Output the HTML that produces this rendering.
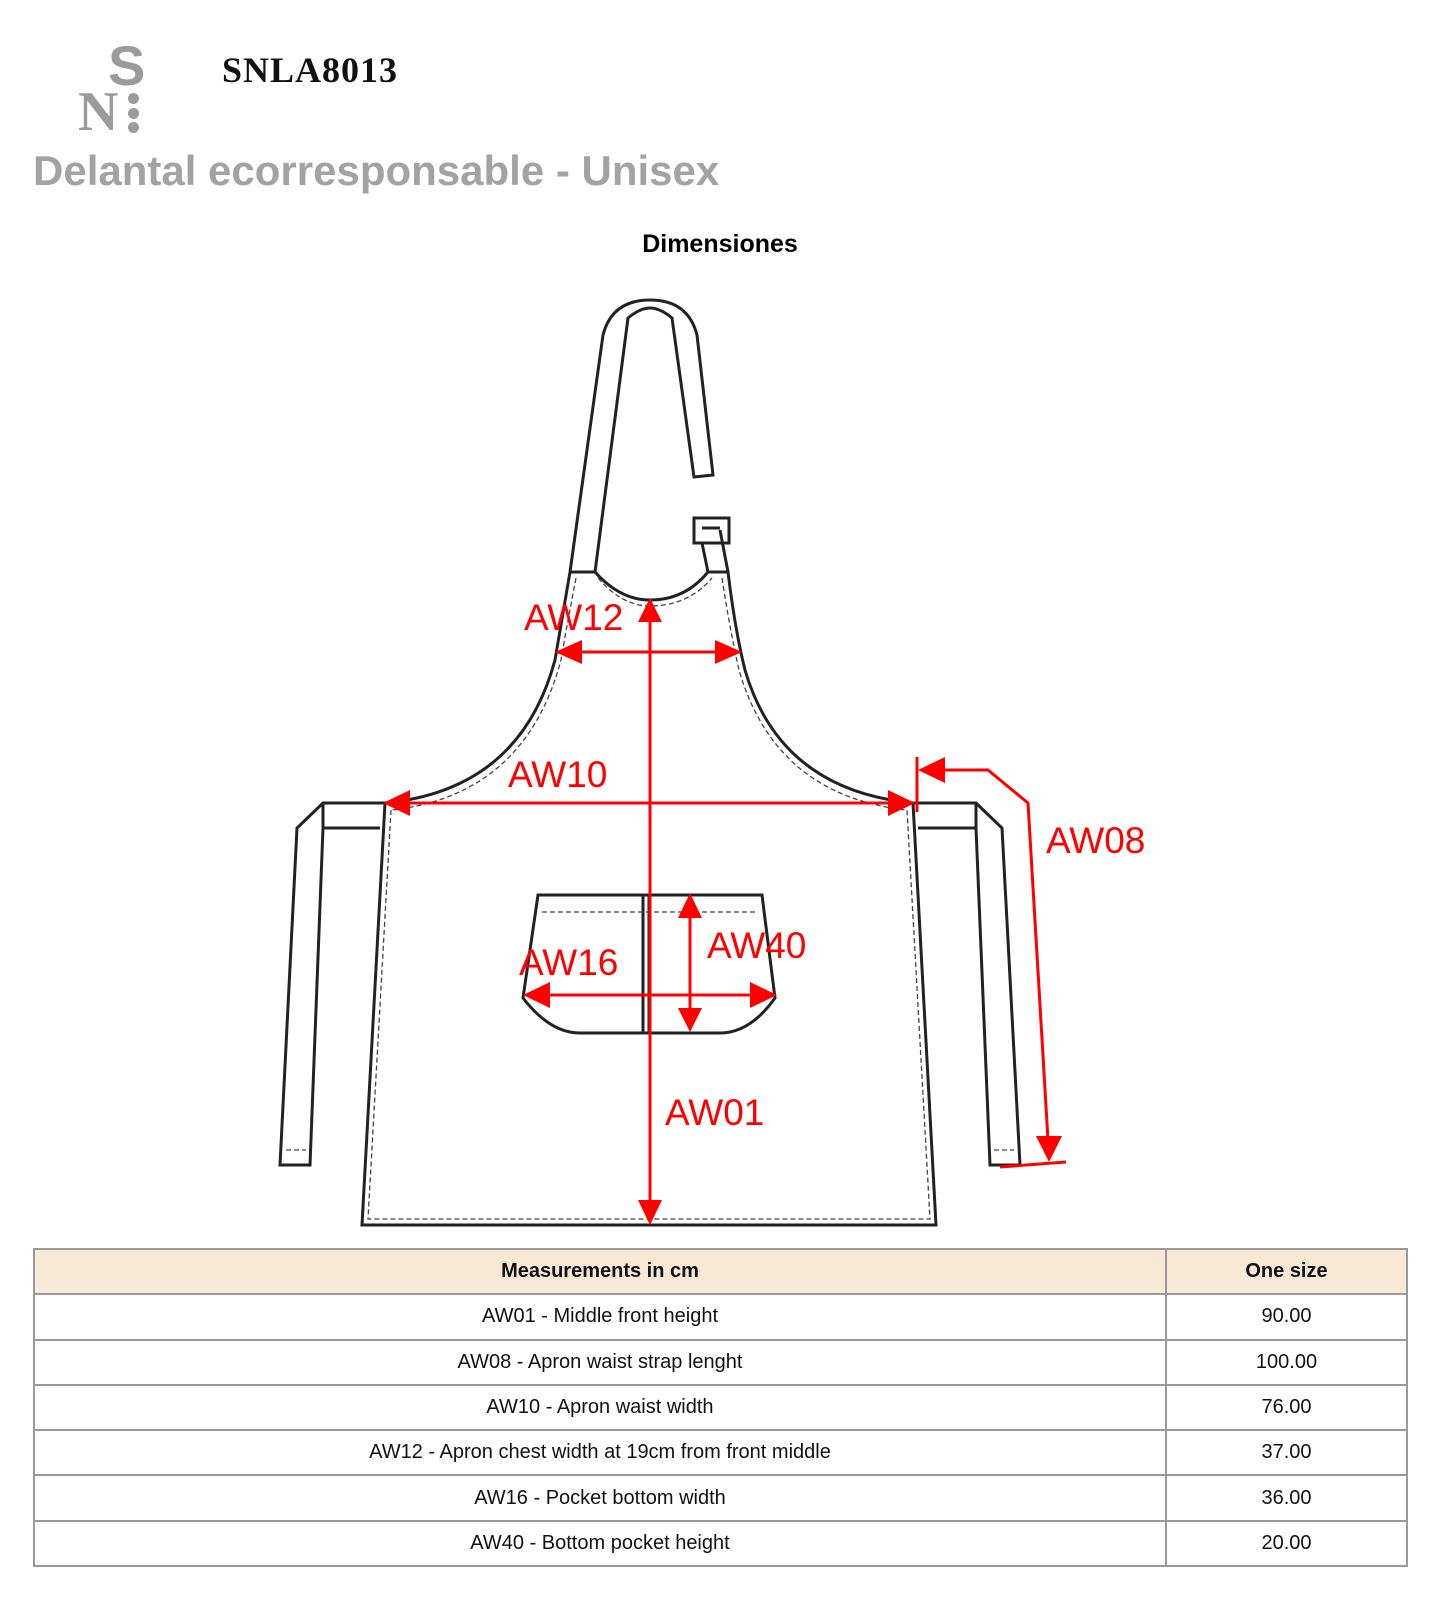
<!DOCTYPE html>
<html><head><meta charset="utf-8"><style>
body{margin:0;width:1445px;height:1609px;background:#fff;position:relative;font-family:"Liberation Sans",sans-serif;overflow:hidden}
.abs{position:absolute}
table{position:absolute;left:33px;top:1248px;border-collapse:collapse;width:1375px}
td{border:2px solid #999;text-align:center;font-size:20px;height:43.3px;padding:0;color:#111}
tr.h td{background:#f8e9d7;font-weight:bold}
</style></head><body>
<div class="abs" style="left:108px;top:38px;font-family:'Liberation Sans',sans-serif;font-weight:bold;font-size:56px;color:#9b9b9b;line-height:1">S</div>
<div class="abs" style="left:78px;top:84px;font-family:'Liberation Serif',serif;font-weight:bold;font-size:56px;color:#9b9b9b;line-height:1">N</div>
<div class="abs" style="left:128px;top:93px;width:11px;height:11px;border-radius:50%;background:#9b9b9b"></div>
<div class="abs" style="left:128px;top:108px;width:11px;height:11px;border-radius:50%;background:#9b9b9b"></div>
<div class="abs" style="left:128px;top:122px;width:11px;height:11px;border-radius:50%;background:#9b9b9b"></div>
<div class="abs" style="left:222px;top:52px;font-family:'Liberation Serif',serif;font-weight:bold;font-size:36px;letter-spacing:1px;color:#111;line-height:1">SNLA8013</div>
<div class="abs" style="left:33px;top:150px;font-weight:bold;font-size:42px;color:#a3a3a3;line-height:1">Delantal ecorresponsable - Unisex</div>
<div class="abs" style="left:0;width:1440px;top:232px;text-align:center;font-weight:bold;font-size:25px;line-height:1">Dimensiones</div>
<svg class="abs" style="left:0;top:0" width="1445" height="1609">
<g fill="none" stroke="#222" stroke-width="3">
<path d="M570 572 L603 335 Q612 300 650 300 Q688 300 697 335 L713 475 L694 477 L672 318 Q660 308 650 308 Q640 308 628 318 L595 572"/>
<rect x="694" y="518" width="35" height="25"/>
<path d="M702 543 L708 572 M720 530 L728 572 M702 528 L720 528"/>
<path d="M570 572 L595 572 Q620 600 650 600 Q685 600 708 572 L728 572 Q735 630 745 670 Q780 790 913 803"/>
<path d="M570 572 Q560 630 555 660 Q520 790 385 803"/>
<path d="M385 803 L362 1225 L936 1225 L913 803"/>
<path d="M385 803 L323 803 L297 828 L280 1165 L310 1165 L323 828 L380 828 M323 803 L323 828"/>
<path d="M913 803 L976 803 L1002 828 L1020 1165 L990 1165 L976 828 L918 828 M976 803 L976 828"/>
<path d="M538 895 L762 895 L775 998 Q750 1033 720 1033 L580 1033 Q550 1033 523 998 Z"/>
<path d="M643 895 L643 1033 M649 895 L649 1033"/>
</g>
<g fill="none" stroke="#444" stroke-width="1.3" stroke-dasharray="5 3">
<path d="M598 578 Q622 606 650 606 Q688 606 712 578"/>
<path d="M576 578 Q566 630 561 660 Q525 795 392 810"/>
<path d="M722 578 Q730 630 739 670 Q775 795 906 810"/>
<path d="M391 810 L368 1219 L930 1219 L907 810"/>
<path d="M542 912 L758 912 M286 1150 L306 1150 M994 1150 L1014 1150"/>
</g>
<g stroke="#f00" stroke-width="3" fill="none">
<path d="M650 615 L650 1205 M575 652 L722 652 M405 803 L893 803 M545 995 L755 995 M690 915 L690 1012"/>
<path d="M917 757 L917 812 M940 770 L988 770 L1028 803 L1048 1140 M1000 1167 L1066 1162"/>
</g>
<g fill="#f00">
<path d="M650 598 L638 622 L662 622Z M650 1225 L638 1200 L662 1200Z"/>
<path d="M555 652 L582 640 L582 664Z M742 652 L715 640 L715 664Z"/>
<path d="M383 803 L410 790 L410 816Z M915 803 L888 790 L888 816Z"/>
<path d="M523 995 L550 982 L550 1008Z M777 995 L750 982 L750 1008Z"/>
<path d="M690 893 L678 918 L702 918Z M690 1032 L678 1008 L702 1008Z"/>
<path d="M918 770 L945 757 L945 783Z M1049 1162 L1036 1136 L1062 1136Z"/>
</g>
<g fill="#f00" font-family="Liberation Sans" font-size="37">
<text x="524" y="630">AW12</text>
<text x="508" y="787">AW10</text>
<text x="1046" y="853">AW08</text>
<text x="707" y="958">AW40</text>
<text x="519" y="975">AW16</text>
<text x="665" y="1125">AW01</text>
</g>
</svg>
<table>
<tr class="h"><td style="width:1130px">Measurements in cm</td><td>One size</td></tr>
<tr><td>AW01 - Middle front height</td><td>90.00</td></tr>
<tr><td>AW08 - Apron waist strap lenght</td><td>100.00</td></tr>
<tr><td>AW10 - Apron waist width</td><td>76.00</td></tr>
<tr><td>AW12 - Apron chest width at 19cm from front middle</td><td>37.00</td></tr>
<tr><td>AW16 - Pocket bottom width</td><td>36.00</td></tr>
<tr><td>AW40 - Bottom pocket height</td><td>20.00</td></tr>
</table>
</body></html>
